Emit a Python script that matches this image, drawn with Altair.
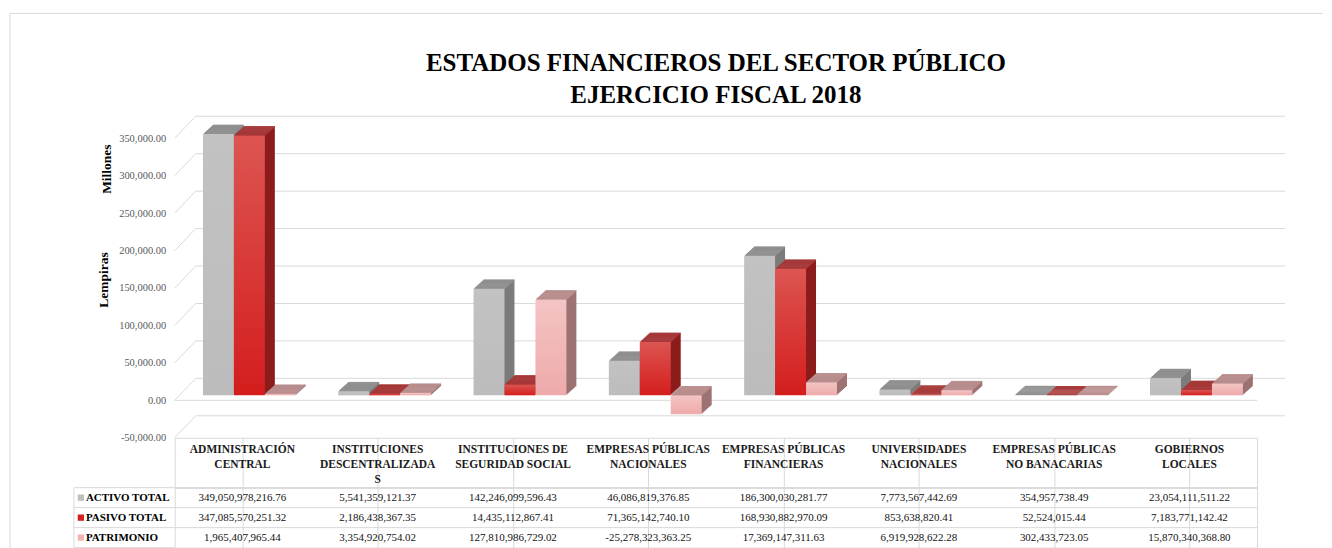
import altair as alt
import pandas as pd

# ---------------- data ----------------
categories = [
    "ADMINISTRACIÓN CENTRAL",
    "INSTITUCIONES DESCENTRALIZADAS",
    "INSTITUCIONES DE SEGURIDAD SOCIAL",
    "EMPRESAS PÚBLICAS NACIONALES",
    "EMPRESAS PÚBLICAS FINANCIERAS",
    "UNIVERSIDADES NACIONALES",
    "EMPRESAS PÚBLICAS NO BANACARIAS",
    "GOBIERNOS LOCALES",
]
header_labels = [
    "ADMINISTRACIÓN\nCENTRAL",
    "INSTITUCIONES\nDESCENTRALIZADA\nS",
    "INSTITUCIONES DE\nSEGURIDAD SOCIAL",
    "EMPRESAS PÚBLICAS\nNACIONALES",
    "EMPRESAS PÚBLICAS\nFINANCIERAS",
    "UNIVERSIDADES\nNACIONALES",
    "EMPRESAS PÚBLICAS\nNO BANACARIAS",
    "GOBIERNOS\nLOCALES",
]
series = ["ACTIVO TOTAL", "PASIVO TOTAL", "PATRIMONIO"]
activo = [349050978216.76, 5541359121.37, 142246099596.43, 46086819376.85,
          186300030281.77, 7773567442.69, 354957738.49, 23054111511.22]
pasivo = [347085570251.32, 2186438367.35, 14435112867.41, 71365142740.10,
          168930882970.09, 853638820.41, 52524015.44, 7183771142.42]
patrimonio = [1965407965.44, 3354920754.02, 127810986729.02, -25278323363.25,
              17369147311.63, 6919928622.28, 302433723.05, 15870340368.80]
y_ticks = [-50000, 0, 50000, 100000, 150000, 200000, 250000, 300000, 350000]
y_domain = [-50000, 350000]
title_lines = ["ESTADOS FINANCIEROS DEL SECTOR PÚBLICO", "EJERCICIO FISCAL 2018"]
axis_title_main = "Lempiras"
axis_title_unit = "Millones"

values_by_series = {"ACTIVO TOTAL": activo, "PASIVO TOTAL": pasivo, "PATRIMONIO": patrimonio}
rows = []
for s in series:
    for c, v in zip(categories, values_by_series[s]):
        rows.append({"cat": c, "series": s, "value": v, "text": f"{v:,.2f}"})
df = pd.DataFrame(rows)
df_header = pd.DataFrame({"cat": categories, "label": header_labels})
df_series = pd.DataFrame({"series": series})
df_ticks = pd.DataFrame({"tick": y_ticks})

# ---------------- styles ----------------
SERIF = "Liberation Serif"
LINE = "#d9d9d9"
W = 1084        # width of category bands (matches the data table)
GRID_W = 1112   # back-wall gridlines run a bit past the last category
WALL_DX = 21    # 3D back wall shift
WALL_DY = -22
H = 300
BAR_W = 31
DEPTH = 10
SLOPE = 0.9
BASE_DY = -5    # bars stand a little behind the front edge of the floor

styles = {
    "ACTIVO TOTAL": dict(offset=-24, front=["#c2c2c2", "#bcbcbc"], side="#7b7b7b",
                         top="#929292", key="#bfbfbf"),
    "PASIVO TOTAL": dict(offset=7, front=["#dc5551", "#d41d1d"], side="#8c1c1c",
                         top="#a83c3c", key="#d42020"),
    "PATRIMONIO": dict(offset=38, front=["#f4c4c4", "#eeaaaa"], side="#9c7272",
                       top="#bb9090", key="#f0b4b4"),
}

y_scale = alt.Scale(domain=y_domain, nice=False)
y_axis = alt.Axis(values=y_ticks, title=None, grid=False, domain=False,
                  ticks=False, labelPadding=9, labelFont=SERIF, labelFontSize=10.5,
                  labelColor="#595959",
                  labelExpr="replace(format(datum.value, ',.2f'), '\u2212', '-')")
xs = alt.X("cat:N", sort=categories,
           scale=alt.Scale(domain=categories, range=[0, W], paddingInner=0, paddingOuter=0),
           axis=None)
ys = alt.Y("m:Q", scale=y_scale, axis=y_axis)
ys_top = alt.Y("top:Q", scale=y_scale, axis=y_axis)

ticks_base = alt.Chart(df_ticks).transform_calculate(m="datum.tick")
back_grid = (ticks_base
             .mark_rule(color=LINE, strokeWidth=1, yOffset=WALL_DY, y2Offset=WALL_DY)
             .encode(y=ys, x=alt.value(WALL_DX), x2=alt.value(GRID_W)))
side_grid = (ticks_base
             .mark_rule(color=LINE, strokeWidth=1, y2Offset=WALL_DY)
             .encode(y=ys, y2="m:Q", x=alt.value(0), x2=alt.value(WALL_DX)))
floor_edge = (ticks_base
              .transform_filter(alt.datum.tick == 0)
              .mark_rule(color=LINE, strokeWidth=1)
              .encode(y=ys, x=alt.value(0), x2=alt.value(W)))

layers = [back_grid, side_grid, floor_edge]
for s in series:
    st = styles[s]
    base = (alt.Chart(df)
            .transform_filter(alt.datum.series == s)
            .transform_calculate(m="datum.value / 1000000", top="max(datum.value / 1000000, 0)"))
    # side / back of the box: copies shifted up and right
    for k in range(1, DEPTH + 1):
        dy = BASE_DY - SLOPE * k
        layers.append(base.mark_bar(width=BAR_W, xOffset=st["offset"] + k, yOffset=dy,
                                    y2Offset=dy, color=st["side"])
                      .encode(x=xs, y=ys))
    # top face: thin slanted slices at the top of the bar
    for k in range(1, DEPTH + 1):
        layers.append(base.mark_bar(width=BAR_W, xOffset=st["offset"] + k,
                                    yOffset=BASE_DY - SLOPE * k - 0.3,
                                    y2Offset=BASE_DY - SLOPE * (k - 1),
                                    color=st["top"])
                      .encode(x=xs, y=ys_top, y2="top:Q"))
    grad = alt.Gradient(gradient="linear",
                        stops=[alt.GradientStop(color=st["front"][0], offset=0),
                               alt.GradientStop(color=st["front"][1], offset=1)],
                        x1=0, x2=0, y1=0, y2=1)
    layers.append(base.mark_bar(width=BAR_W, xOffset=st["offset"], yOffset=BASE_DY,
                                y2Offset=BASE_DY, color=grad)
                  .encode(x=xs, y=ys))

lab_main = (alt.Chart(pd.DataFrame({"t": [axis_title_main]}))
            .mark_text(angle=270, font=SERIF, fontSize=13.5, fontWeight="bold", color="black")
            .encode(x=alt.value(-71), y=alt.value(142), text="t:N"))
lab_unit = (alt.Chart(pd.DataFrame({"t": [axis_title_unit]}))
            .mark_text(angle=270, font=SERIF, fontSize=13.5, fontWeight="bold", color="black")
            .encode(x=alt.value(-68), y=alt.value(31), text="t:N"))

bars = alt.layer(*layers, lab_main, lab_unit).properties(
    width=GRID_W, height=H,
    title=alt.TitleParams(text=title_lines, font=SERIF, fontSize=25, fontWeight="bold",
                          color="black", anchor="middle", frame="group", offset=8,
                          lineHeight=32, dx=-14),
)

# ---------------- data table ----------------
xt = alt.X("cat:N", sort=categories,
           scale=alt.Scale(domain=categories, paddingInner=0, paddingOuter=0),
           axis=alt.Axis(grid=True, bandPosition=0, labels=False, ticks=False, domain=False,
                         title=None, gridColor=LINE))

header = (alt.Chart(df_header)
          .mark_text(font=SERIF, fontSize=11.5, fontWeight="bold", color="#1a1a1a",
                     lineBreak="\n", baseline="top", lineHeight=15)
          .encode(x=xt, y=alt.value(6), text="label:N")
          .properties(width=W, height=50, view=alt.ViewBackground(stroke=LINE)))

yt = alt.Y("series:N", sort=series,
           scale=alt.Scale(domain=series, paddingInner=0, paddingOuter=0), axis=None)

vals = (alt.Chart(df)
        .mark_text(font=SERIF, fontSize=11, color="#111111")
        .encode(x=xt, y=yt, text="text:N"))
row_lines = (alt.Chart(df_series)
             .mark_rule(color=LINE)
             .encode(y=alt.Y("series:N", sort=series, bandPosition=0,
                             scale=alt.Scale(domain=series, paddingInner=0, paddingOuter=0),
                             axis=None),
                     x=alt.value(-101), x2=alt.value(W)))
one = pd.DataFrame({"a": [0]})
bottom_line = (alt.Chart(one).mark_rule(color=LINE)
               .encode(x=alt.value(-101), x2=alt.value(0), y=alt.value(60)))
left_line = (alt.Chart(one).mark_rule(color=LINE)
             .encode(x=alt.value(-101), y=alt.value(0), y2=alt.value(60)))
# outer frame of the chart object (top and left edges)
frame_top = (alt.Chart(one).mark_rule(color=LINE)
             .encode(x=alt.value(-165), x2=alt.value(1150), y=alt.value(-475)))
frame_left = (alt.Chart(one).mark_rule(color=LINE)
              .encode(x=alt.value(-165), y=alt.value(-475), y2=alt.value(61)))
keys = (alt.Chart(df_series)
        .mark_square(size=40, opacity=1)
        .encode(x=alt.value(-94), y=yt,
                color=alt.Color("series:N",
                                scale=alt.Scale(domain=series,
                                                range=[styles[s]["key"] for s in series]),
                                legend=None)))
row_labels = (alt.Chart(df_series)
              .mark_text(align="left", font=SERIF, fontSize=11, fontWeight="bold", color="black")
              .encode(x=alt.value(-89), y=yt, text="series:N"))

table = alt.layer(frame_top, frame_left, row_lines, bottom_line, left_line, vals, keys,
                  row_labels).properties(width=W, height=60,
                                         view=alt.ViewBackground(stroke=LINE))

chart = (alt.vconcat(bars, header, table, spacing=0, bounds="flush")
         .properties(padding={"left": 1, "top": 4, "right": 0, "bottom": 0},
                     background="white")
         .configure_view(stroke="transparent"))

chart.save("out.html", embed_options={"renderer": "svg", "actions": False})
